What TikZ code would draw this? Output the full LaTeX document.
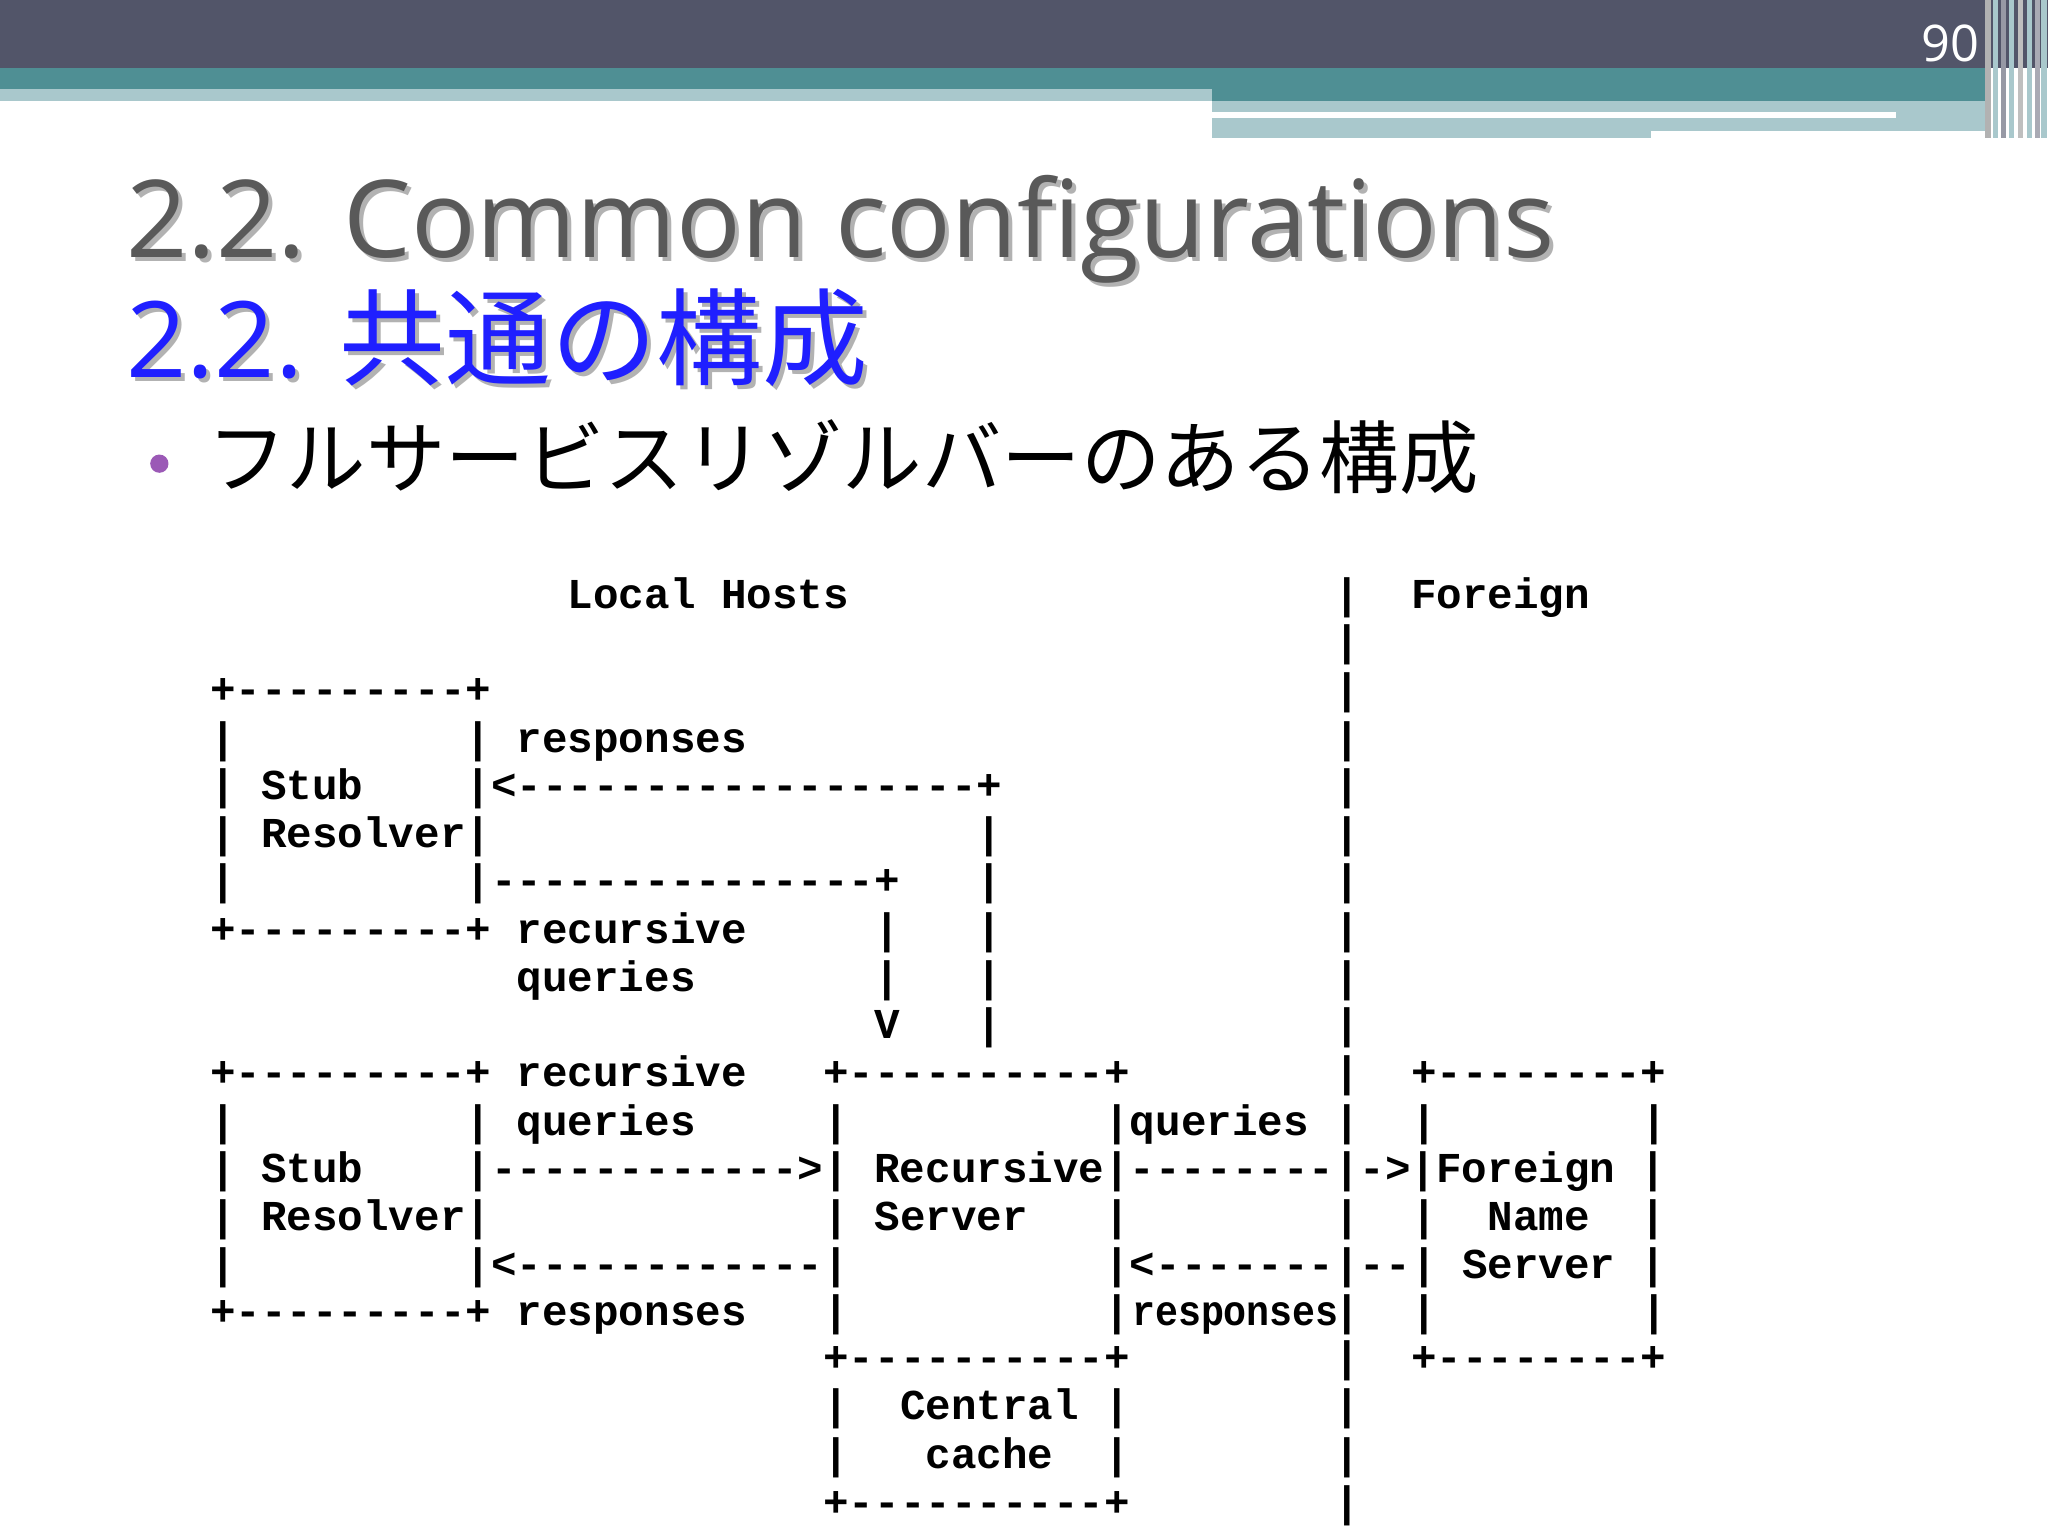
\documentclass[tikz,border=0pt]{standalone}
\usepackage{fontspec}
\setmainfont{Open Sans}
\newfontfamily\mono{Liberation Mono}[WordSpace={1,0,0}]
\newfontfamily\cjk{Noto Sans CJK JP}
\definecolor{darkbar}{HTML}{525569}
\definecolor{teal}{HTML}{4F8F94}
\definecolor{lightbar}{HTML}{A9C8CC}
\definecolor{titlegray}{HTML}{595959}
\definecolor{titleblue}{HTML}{1F1FFF}
\definecolor{bulletpurple}{HTML}{9B59B6}
\begin{document}
\begin{tikzpicture}[x=0.01cm,y=-0.01cm,
  asc/.style={anchor=base west,inner sep=0,font=\mono\bfseries\fontsize{9.27pt}{9.27pt}\selectfont}]
\useasboundingbox (0,0) rectangle (1568,1176);
% header
\fill[darkbar] (0,0) rectangle (1568,52);
\fill[teal] (0,52) rectangle (1520,68);
\fill[teal] (928,52) rectangle (1520,77);
\fill[lightbar] (0,68) rectangle (928,77);
\fill[lightbar] (928,77) rectangle (1520,106);
\fill[white] (928,86) rectangle (1452,90);
\fill[white] (1264,100) rectangle (1520,106);
\foreach \xx/\cc in {1520/gray!60,1526/lightbar,1532/darkbar!60,1538/lightbar,1545/gray!50,1552/lightbar,1558/darkbar!50,1563/lightbar}
  \fill[\cc] (\xx,0) rectangle ++(4,106);
\node[anchor=base east,inner sep=0,text=white,font=\fontsize{11pt}{11pt}\selectfont] (pg) at (1516,47) {90};
% titles
\node[anchor=base west,inner sep=0,text=black!30,font=\fontsize{23.4pt}{23.4pt}\selectfont] (t1s) at (99,200) {2.2. Common configurations};
\node[anchor=base west,inner sep=0,text=titlegray,font=\fontsize{23.4pt}{23.4pt}\selectfont] (t1) at (96,197) {2.2. Common configurations};
\node[anchor=base west,inner sep=0,text=black!30,font=\fontsize{23pt}{23pt}\selectfont] (t2s) at (99,292) {2.2. {\cjk 共通の構成}};
\node[anchor=base west,inner sep=0,text=titleblue,font=\fontsize{23pt}{23pt}\selectfont] (t2) at (96,289) {2.2. {\cjk 共通の構成}};
\fill[bulletpurple] (122,355) circle (7) coordinate (bul);
\node[anchor=base west,inner sep=0,font=\cjk\fontsize{17.3pt}{17.3pt}\selectfont] (b1) at (158,373) {フルサービスリゾルバーのある構成};
% ascii diagram
\def\X{160.2}
\node[asc] (l0) at (\X,466) {~~~~~~~~~~~~~~Local~Hosts~~~~~~~~~~~~~~~~~~~|~~Foreign};
\node[asc] (l1) at (\X,502) {~~~~~~~~~~~~~~~~~~~~~~~~~~~~~~~~~~~~~~~~~~~~|};
\node[asc] (l2) at (\X,539) {+---------+~~~~~~~~~~~~~~~~~~~~~~~~~~~~~~~~~|};
\node[asc] (l3) at (\X,576) {|~~~~~~~~~|~responses~~~~~~~~~~~~~~~~~~~~~~~|};
\node[asc] (l4) at (\X,612) {|~Stub~~~~|<------------------+~~~~~~~~~~~~~|};
\node[asc] (l5) at (\X,649) {|~Resolver|~~~~~~~~~~~~~~~~~~~|~~~~~~~~~~~~~|};
\node[asc] (l6) at (\X,685) {|~~~~~~~~~|---------------+~~~|~~~~~~~~~~~~~|};
\node[asc] (l7) at (\X,722) {+---------+~recursive~~~~~|~~~|~~~~~~~~~~~~~|};
\node[asc] (l8) at (\X,759) {~~~~~~~~~~~~queries~~~~~~~|~~~|~~~~~~~~~~~~~|};
\node[asc] (l9) at (\X,795) {~~~~~~~~~~~~~~~~~~~~~~~~~~V~~~|~~~~~~~~~~~~~|};
\node[asc] (l10) at (\X,832) {+---------+~recursive~~~+----------+~~~~~~~~|~~+--------+};
\node[asc] (l11) at (\X,869) {|~~~~~~~~~|~queries~~~~~|~~~~~~~~~~|queries~|~~|~~~~~~~~|};
\node[asc] (l12) at (\X,905) {|~Stub~~~~|------------>|~Recursive|--------|->|Foreign~|};
\node[asc] (l13) at (\X,942) {|~Resolver|~~~~~~~~~~~~~|~Server~~~|~~~~~~~~|~~|~~Name~~|};
\node[asc] (l14) at (\X,979) {|~~~~~~~~~|<------------|~~~~~~~~~~|<-------|--|~Server~|};
\node[asc] (l15) at (\X,1015) {+---------+~responses~~~|~~~~~~~~~~|~~~~~~~~|~~|~~~~~~~~|};
\node[asc] (l15r) at (866,1015) {\scalebox{0.9}[1]{responses}};
\node[asc] (l16) at (\X,1050) {~~~~~~~~~~~~~~~~~~~~~~~~+----------+~~~~~~~~|~~+--------+};
\node[asc] (l17) at (\X,1087) {~~~~~~~~~~~~~~~~~~~~~~~~|~~Central~|~~~~~~~~|};
\node[asc] (l18) at (\X,1124) {~~~~~~~~~~~~~~~~~~~~~~~~|~~~cache~~|~~~~~~~~|};
\node[asc] (l19) at (\X,1161) {~~~~~~~~~~~~~~~~~~~~~~~~+----------+~~~~~~~~|};
\end{tikzpicture}
\end{document}
